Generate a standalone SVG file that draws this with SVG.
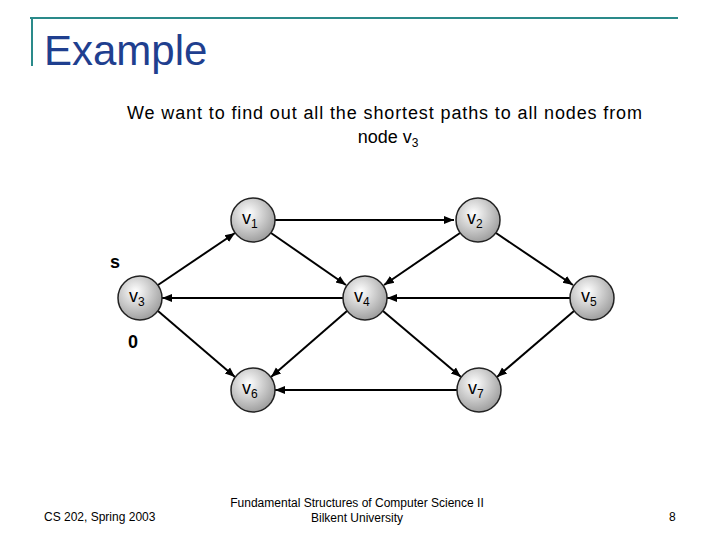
<svg xmlns="http://www.w3.org/2000/svg" width="720" height="540" viewBox="0 0 720 540">
<style>
.n{stroke:#222;stroke-width:1.5;fill:url(#g)}
.e{stroke:#000;stroke-width:2;marker-end:url(#a);fill:none}
.l{font-family:"Liberation Sans",Arial,sans-serif;font-size:18px;fill:#000}
.s{font-size:12px}
.f{font-family:"Liberation Sans",Arial,sans-serif;font-size:12px;fill:#000}
</style>
<defs>
<radialGradient id="g" cx="0.4" cy="0.35" r="0.7"><stop offset="0" stop-color="#fff"/><stop offset="1" stop-color="#999"/></radialGradient>
<marker id="a" viewBox="0 0 10 10" refX="10" refY="5" markerWidth="5" markerHeight="5" orient="auto"><path d="M0,1 L10,5 L0,9z" fill="#000"/></marker>
</defs>
<rect width="720" height="540" fill="#fff"/>
<path d="M30,18 H678 M32,18 V66" stroke="#2a8a8a" stroke-width="2" fill="none"/>
<text x="44" y="65" font-family="Liberation Sans,Arial,sans-serif" font-size="42" fill="#1f3f8f">Example</text>
<text x="127" y="119" class="l" font-size="20" textLength="515">We want to find out all the shortest paths to all nodes from</text>
<text x="388" y="143" text-anchor="middle" class="l" font-size="20">node v<tspan class="s" dy="4">3</tspan></text>
<g id="edges">
<line class="e" x1="158" y1="285" x2="235" y2="233"/>
<line class="e" x1="275" y1="220" x2="454" y2="220"/>
<line class="e" x1="271" y1="233" x2="346" y2="285"/>
<line class="e" x1="460" y1="233" x2="384" y2="285"/>
<line class="e" x1="496" y1="233" x2="573" y2="285"/>
<line class="e" x1="343" y1="298" x2="162" y2="298"/>
<line class="e" x1="570" y1="298" x2="387" y2="298"/>
<line class="e" x1="158" y1="311" x2="235" y2="377"/>
<line class="e" x1="347" y1="311" x2="271" y2="377"/>
<line class="e" x1="383" y1="311" x2="461" y2="377"/>
<line class="e" x1="574" y1="311" x2="497" y2="377"/>
<line class="e" x1="457" y1="390" x2="275" y2="390"/>
</g>
<g id="v1"><circle class="n" cx="253" cy="220" r="22"/><text class="l" x="242" y="224">v<tspan class="s" dy="4">1</tspan></text></g>
<g id="v2"><circle class="n" cx="478" cy="220" r="22"/><text class="l" x="467" y="224">v<tspan class="s" dy="4">2</tspan></text></g>
<g id="v3"><circle class="n" cx="140" cy="298" r="22"/><text class="l" x="129" y="302">v<tspan class="s" dy="4">3</tspan></text></g>
<g id="v4"><circle class="n" cx="365" cy="298" r="22"/><text class="l" x="354" y="302">v<tspan class="s" dy="4">4</tspan></text></g>
<g id="v5"><circle class="n" cx="592" cy="298" r="22"/><text class="l" x="581" y="302">v<tspan class="s" dy="4">5</tspan></text></g>
<g id="v6"><circle class="n" cx="253" cy="390" r="22"/><text class="l" x="242" y="394">v<tspan class="s" dy="4">6</tspan></text></g>
<g id="v7"><circle class="n" cx="479" cy="390" r="22"/><text class="l" x="468" y="394">v<tspan class="s" dy="4">7</tspan></text></g>
<text class="l" x="110" y="268" font-weight="bold">s</text>
<text class="l" x="128" y="348" font-weight="bold">0</text>
<text class="f" x="44" y="521">CS 202, Spring 2003</text>
<text class="f" x="357" y="507" text-anchor="middle">Fundamental Structures of Computer Science II</text>
<text class="f" x="357" y="522" text-anchor="middle">Bilkent University</text>
<text class="f" x="669" y="521">8</text>
</svg>
